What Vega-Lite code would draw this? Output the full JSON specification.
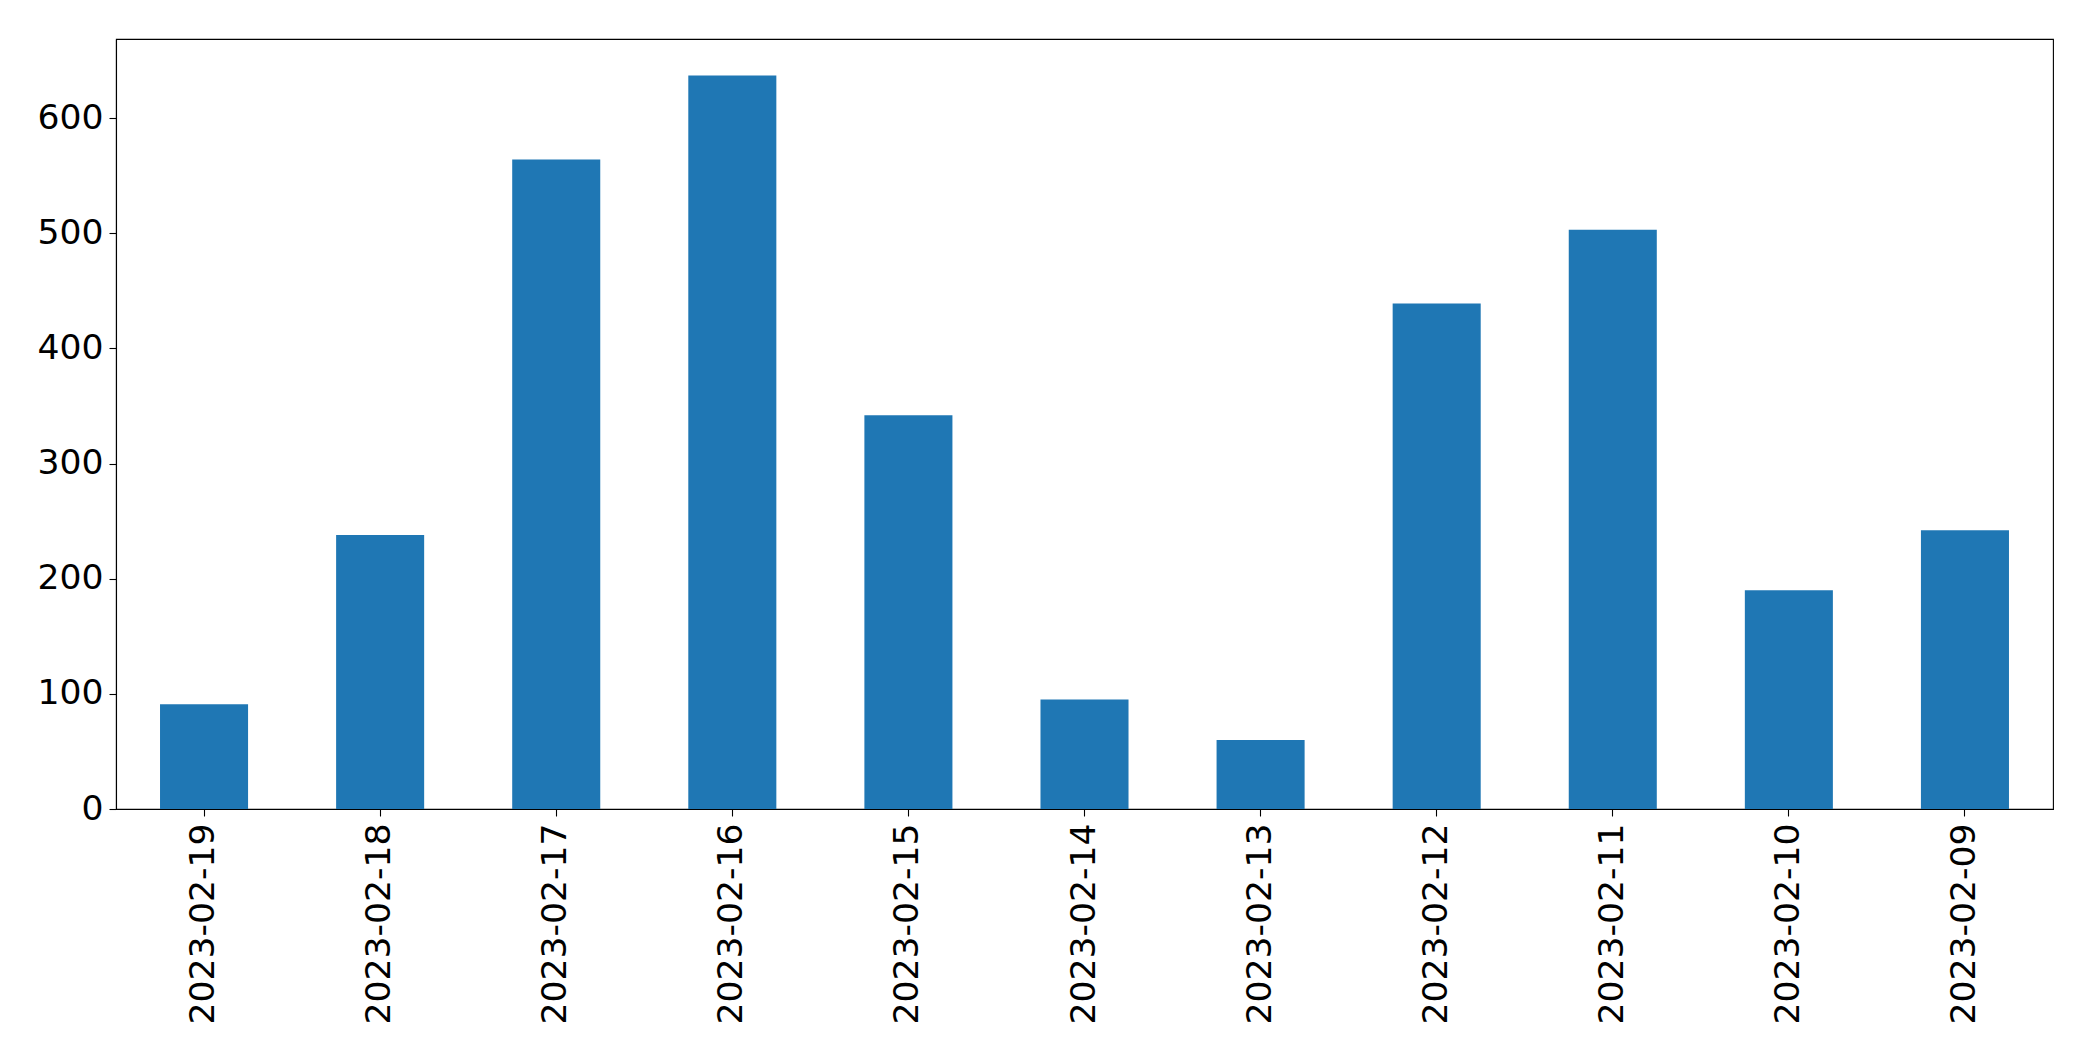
{
  "$schema": "https://vega.github.io/schema/vega-lite/v6.json",
  "autosize": {"type": "none"},
  "padding": {"left": 116, "top": 39, "right": 40, "bottom": 252},
  "width": 1937,
  "height": 770,
  "background": "white",
  "config": {
    "view": {"stroke": "black", "strokeWidth": 1.1},
    "font": "DejaVu Sans",
    "axis": {
      "labelFont": "DejaVu Sans",
      "labelFontSize": 34.6,
      "labelColor": "black",
      "labelLimit": 0,
      "tickColor": "black",
      "tickSize": 7,
      "tickWidth": 1.1,
      "domainColor": "black",
      "domainWidth": 1.1,
      "grid": false,
      "title": null
    }
  },
  "data": {
    "values": [
      {"date": "2023-02-19", "value": 91},
      {"date": "2023-02-18", "value": 238},
      {"date": "2023-02-17", "value": 564},
      {"date": "2023-02-16", "value": 637},
      {"date": "2023-02-15", "value": 342},
      {"date": "2023-02-14", "value": 95},
      {"date": "2023-02-13", "value": 60},
      {"date": "2023-02-12", "value": 439},
      {"date": "2023-02-11", "value": 503},
      {"date": "2023-02-10", "value": 190},
      {"date": "2023-02-09", "value": 242}
    ]
  },
  "mark": {"type": "bar", "color": "#1f77b4"},
  "encoding": {
    "x": {
      "field": "date",
      "type": "nominal",
      "sort": null,
      "scale": {"paddingInner": 0.5, "paddingOuter": 0.25},
      "axis": {"labelAngle": -90, "labelPadding": 7, "labelBaseline": "middle", "labelAlign": "right"}
    },
    "y": {
      "field": "value",
      "type": "quantitative",
      "scale": {"domain": [0, 668.6], "nice": false, "zero": true},
      "axis": {"values": [0, 100, 200, 300, 400, 500, 600], "labelPadding": 6}
    }
  }
}
